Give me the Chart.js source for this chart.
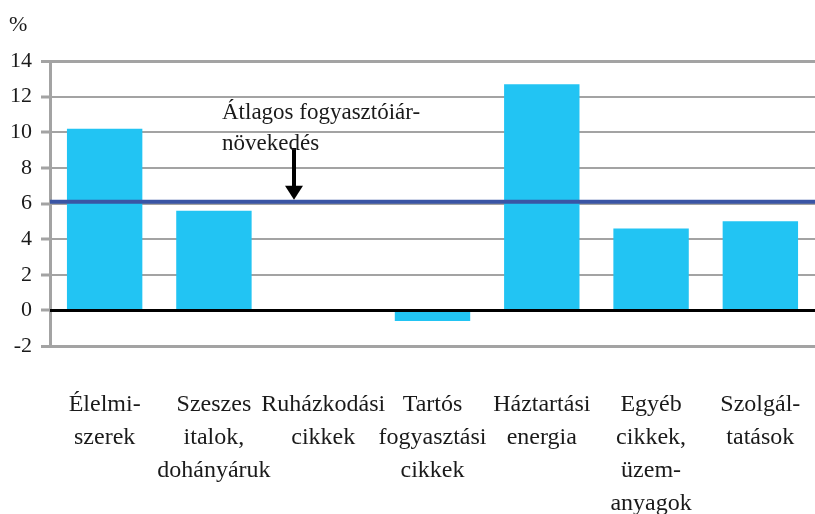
<!DOCTYPE html>
<html>
<head>
<meta charset="utf-8">
<script src="https://cdn.jsdelivr.net/npm/chart.js@4.4.1/dist/chart.umd.min.js"></script>
<style>
  html, body { margin: 0; padding: 0; background: #fff; }
  canvas { display: block; }
</style>
</head>
<body>
<canvas id="priceChart" width="815" height="514"></canvas>
<script>
// data
const categories = [
    ['Élelmi-', 'szerek'],
    ['Szeszes', 'italok,', 'dohányáruk'],
    ['Ruházkodási', 'cikkek'],
    ['Tartós', 'fogyasztási', 'cikkek'],
    ['Háztartási', 'energia'],
    ['Egyéb', 'cikkek,', 'üzem-', 'anyagok'],
    ['Szolgál-', 'tatások']
];
const priceGrowth = [10.2, 5.6, 0, -0.6, 12.7, 4.6, 5.0];
const averageGrowth = [6.1];
const annotationLines = ['Átlagos fogyasztóiár-', 'növekedés'];
const unitLabel = '%';

const SERIF = '"Liberation Serif", "Times New Roman", serif';

// draws the zero line, the average line, the arrow and the free texts
const overlayPlugin = {
    id: 'overlay',
    afterDatasetsDraw(chart) {
        const ctx = chart.ctx;
        const area = chart.chartArea;
        const y = chart.scales.y;

        ctx.save();
        // zero line on top of the bars
        const y0 = y.getPixelForValue(0);
        ctx.strokeStyle = '#000';
        ctx.lineWidth = 3;
        ctx.beginPath();
        ctx.moveTo(area.left, y0);
        ctx.lineTo(area.right, y0);
        ctx.stroke();

        // average line
        const yAvg = y.getPixelForValue(averageGrowth[0]);
        ctx.strokeStyle = '#3A55A5';
        ctx.lineWidth = 4;
        ctx.beginPath();
        ctx.moveTo(area.left, yAvg);
        ctx.lineTo(area.right, yAvg);
        ctx.stroke();

        // arrow pointing at the average line
        const ax = 294;
        ctx.strokeStyle = '#000';
        ctx.fillStyle = '#000';
        ctx.lineWidth = 4;
        ctx.beginPath();
        ctx.moveTo(ax, 148);
        ctx.lineTo(ax, yAvg - 12);
        ctx.stroke();
        ctx.beginPath();
        ctx.moveTo(ax - 9, yAvg - 16);
        ctx.lineTo(ax + 9, yAvg - 16);
        ctx.lineTo(ax, yAvg - 2);
        ctx.closePath();
        ctx.fill();

        // annotation text
        ctx.font = '23px ' + SERIF;
        ctx.fillStyle = '#1a1a1a';
        ctx.textAlign = 'left';
        ctx.textBaseline = 'alphabetic';
        ctx.fillText(annotationLines[0], 222, 119);
        ctx.fillText(annotationLines[1], 222, 150);

        // unit label
        ctx.font = '22px ' + SERIF;
        ctx.fillText(unitLabel, 9, 31);
        ctx.restore();
    }
};

new Chart(document.getElementById('priceChart').getContext('2d'), {
    type: 'bar',
    data: {
        labels: categories,
        datasets: [{
            data: priceGrowth,
            backgroundColor: '#22C4F3',
            borderWidth: 0,
            barPercentage: 0.69,
            categoryPercentage: 1
        }]
    },
    options: {
        responsive: false,
        animation: false,
        layout: { padding: { top: 61, right: 0, left: 0, bottom: 0 } },
        plugins: {
            legend: { display: false },
            tooltip: { enabled: false }
        },
        scales: {
            x: {
                grid: { display: false, drawTicks: false },
                border: { display: false },
                ticks: {
                    autoSkip: false,
                    maxRotation: 0,
                    padding: 42,
                    color: '#1a1a1a',
                    font: { family: SERIF, size: 24, lineHeight: 1.375 }
                },
                afterFit(scale) {
                    scale.height = 168;
                    scale.paddingLeft = 0;
                    scale.paddingRight = 0;
                }
            },
            y: {
                min: -2,
                max: 14,
                ticks: {
                    stepSize: 2,
                    padding: 9,
                    color: '#1a1a1a',
                    font: { family: SERIF, size: 22 }
                },
                grid: {
                    color: ctx => ctx.tick && ctx.tick.value === 0 ? 'rgba(0,0,0,0)' : '#A3A3A3',
                    lineWidth: ctx => ctx.tick && (ctx.tick.value === 14 || ctx.tick.value === -2) ? 3 : 2,
                    tickColor: '#A3A3A3',
                    tickWidth: 3,
                    tickLength: 9
                },
                border: { display: true, color: '#A3A3A3', width: 3 },
                afterFit(scale) { scale.width = 50; }
            }
        }
    },
    plugins: [overlayPlugin]
});
</script>
</body>
</html>
